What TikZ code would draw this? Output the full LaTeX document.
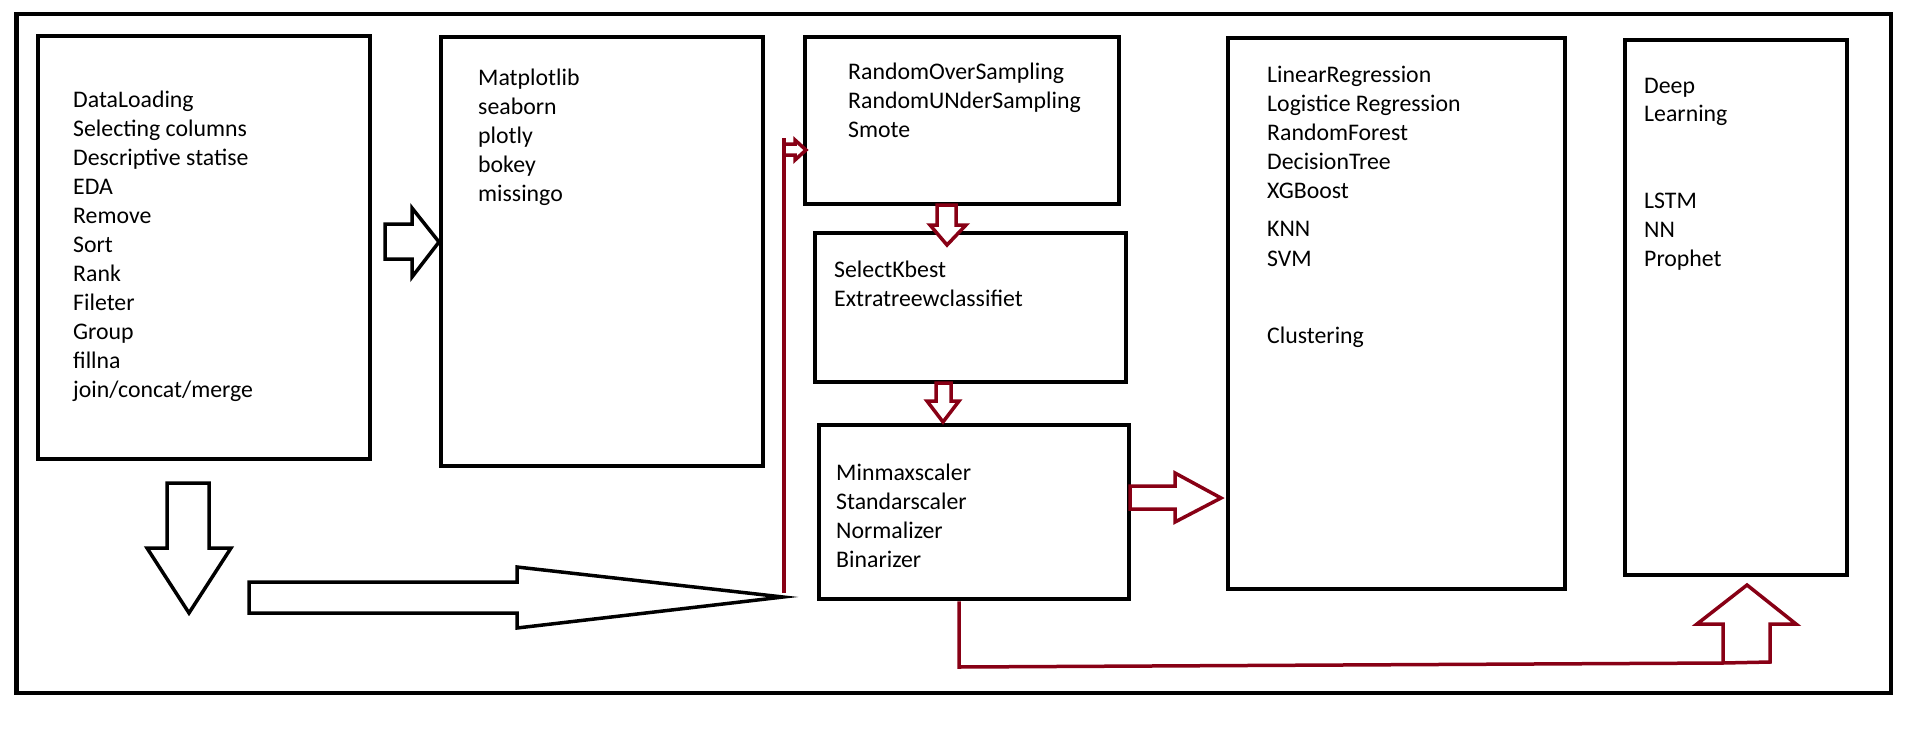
\documentclass[tikz,border=0pt]{standalone}
\usepackage{fontspec}
\setmainfont{Carlito}
\definecolor{dkred}{RGB}{136,0,21}
\begin{document}
\begin{tikzpicture}[x=1pt,y=-1pt,
  box/.style={draw=black,line width=4.5pt,inner sep=0pt,fill=none},
  txt/.style={anchor=base west,inner sep=0pt,font=\fontsize{23.8pt}{29pt}\selectfont},
  blkarrow/.style={draw=black,line width=3.5pt,line join=miter,fill=white},
  redarrow/.style={draw=dkred,line width=3.5pt,line join=miter,fill=white},
  redln/.style={draw=dkred,line width=3.5pt}]
\useasboundingbox (0,0) rectangle (1914,737);
\fill[white] (0,0) rectangle (1914,737);
% frame
\node[box,minimum width=1874.5pt,minimum height=679pt] (frame) at (953.75,353.5) {};
% boxes
\node[box,minimum width=332pt,minimum height=423pt] (b1) at (204,247.5) {};
\node[box,minimum width=322pt,minimum height=429pt] (b2) at (602,251.5) {};
\node[box,minimum width=314pt,minimum height=167pt] (b3) at (962,120.5) {};
\node[box,minimum width=311pt,minimum height=149pt] (b4) at (970.5,307.5) {};
\node[box,minimum width=310pt,minimum height=174pt] (b5) at (974,512) {};
\node[box,minimum width=337pt,minimum height=551pt] (b6) at (1396.5,313.5) {};
\node[box,minimum width=222pt,minimum height=535pt] (b7) at (1736,307.5) {};
% texts
\foreach \s [count=\i from 0] in {DataLoading,Selecting columns,Descriptive statise,EDA,Remove,Sort,Rank,Fileter,Group,fillna,join/concat/merge}
  \node[txt] (t1-\i) at (73,107+29*\i) {\s};
\foreach \s [count=\i from 0] in {Matplotlib,seaborn,plotly,bokey,missingo}
  \node[txt] (t2-\i) at (478,85+29*\i) {\s};
\foreach \s [count=\i from 0] in {RandomOverSampling,RandomUNderSampling,Smote}
  \node[txt] (t3-\i) at (848,79+29*\i) {\s};
\foreach \s [count=\i from 0] in {SelectKbest,Extratreewclassifiet}
  \node[txt] (t4-\i) at (834,277+29*\i) {\s};
\foreach \s [count=\i from 0] in {Minmaxscaler,Standarscaler,Normalizer,Binarizer}
  \node[txt] (t5-\i) at (836,480+29*\i) {\s};
\foreach \s/\yy [count=\i] in {LinearRegression/82,Logistice Regression/111,RandomForest/140,DecisionTree/169,XGBoost/198,KNN/236,SVM/266,Clustering/343}
  \node[txt] (t6-\i) at (1267,\yy) {\s};
\foreach \s/\yy [count=\i] in {Deep/93,Learning/121,LSTM/208,NN/237,Prophet/266}
  \node[txt] (t7-\i) at (1644,\yy) {\s};
% black block arrows
\draw[blkarrow] (385,224) -- (412,224) -- (412,208) -- (439,242) -- (412,277) -- (412,259) -- (385,259) -- cycle;
\draw[blkarrow] (167,483) -- (209,483) -- (209,548) -- (231,548) -- (189,613) -- (147,548) -- (167,548) -- cycle;
\draw[blkarrow] (249,582) -- (517,582) -- (517,567) -- (783,597) -- (517,628) -- (517,613) -- (249,613) -- cycle;
% red vertical line and small arrow into b3
\coordinate (vtop) at (784,138);
\coordinate (vbot) at (784,593);
\draw[redln] (vbot) -- (vtop);
\draw[redarrow] (784,144) -- (795,144) -- (795,140) -- (806,150) -- (795,160) -- (795,155) -- (784,155) -- cycle;
% red down arrows
\draw[redarrow] (937,205) -- (956,205) -- (956,225) -- (966,225) -- (947,245) -- (930,225) -- (937,225) -- cycle;
\draw[redarrow] (936,383) -- (951,383) -- (951,401) -- (959,401) -- (943,422) -- (927,401) -- (936,401) -- cycle;
% red right arrow b5 -> b6
\draw[redarrow] (1130,486) -- (1175,486) -- (1175,473) -- (1221,498) -- (1175,522) -- (1175,509) -- (1130,509) -- cycle;
% up arrow into b7
\coordinate (ubl) at (1723,663);
\draw[redarrow] (ubl) -- (1723,624) -- (1697,624) -- (1747,585) -- (1796,624) -- (1770,624) -- (1770,662) -- cycle;
% connector b5 -> up arrow
\coordinate (rl) at (959,667);
\draw[redln] (b5.south -| rl) -- (rl) -- (ubl);
\end{tikzpicture}
\end{document}
